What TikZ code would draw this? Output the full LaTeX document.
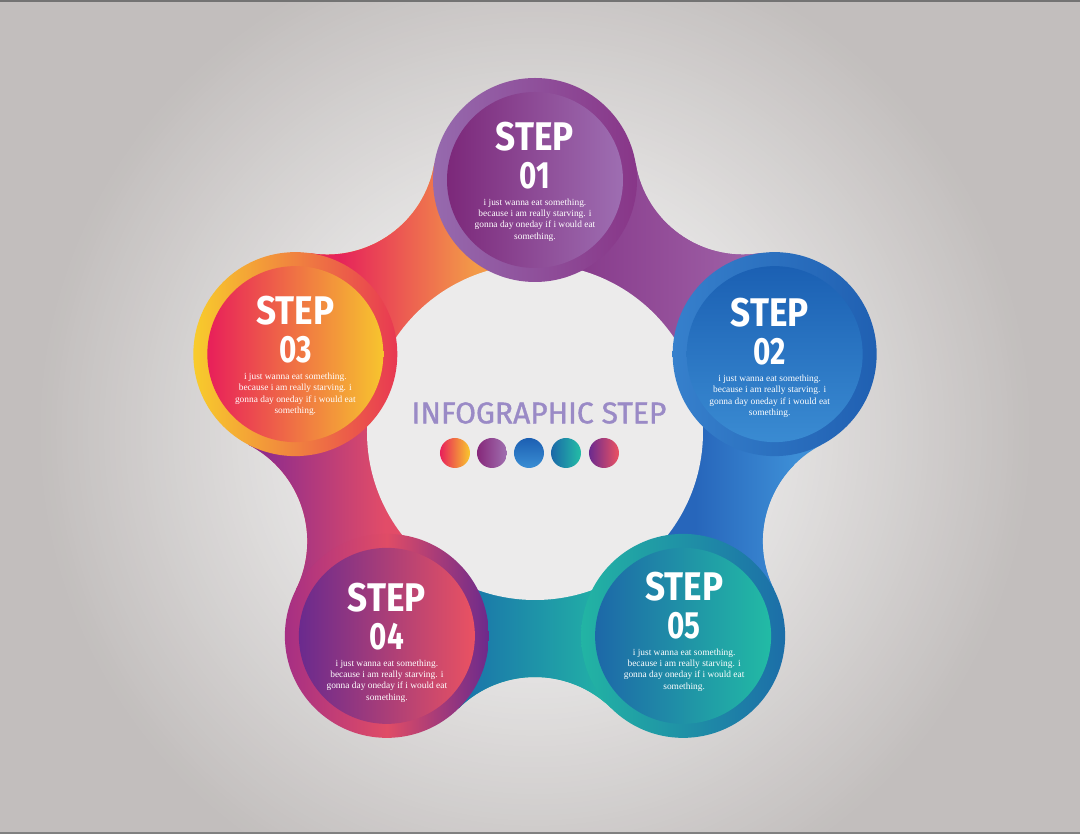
\documentclass[tikz,border=0pt]{standalone}
\usepackage{fontspec}
\usetikzlibrary{calc}
\newfontfamily\stepfont[FakeStretch=0.88]{Fira Sans}
\newfontfamily\numfont[FakeStretch=0.78]{Fira Sans}
\newfontfamily\titlefont[FakeBold=1.2]{Fira Sans}
\newfontfamily\bodyfont{Liberation Serif}

\definecolor{bglight}{HTML}{ECEBEB}
\definecolor{bgdark}{HTML}{C2BEBD}
\definecolor{titleviolet}{HTML}{9A8AC6}
% band colours, one pair per gap
\definecolor{gapA}{HTML}{873A8B}
\definecolor{gapB}{HTML}{A266AA}
\definecolor{gapC}{HTML}{E6245A}
\definecolor{gapD}{HTML}{F39A48}
\definecolor{gapE}{HTML}{8A2A8E}
\definecolor{gapF}{HTML}{E24C68}
\definecolor{gapG}{HTML}{1A74AA}
\definecolor{gapH}{HTML}{22B2A6}
\definecolor{gapI}{HTML}{2766BB}
\definecolor{gapJ}{HTML}{3D8ED6}

% outline of the ring with its concave fillets
\newcommand\bandpath{($(18:252)+(98.67:102)$) arc[start angle=-81.33, end angle=-170.67, radius=108.7]
  -- ($(90:252)+(170.67:102)$) arc[start angle=-9.33, end angle=-98.67, radius=108.7]
  -- ($(162:252)+(242.67:102)$) arc[start angle=62.67, end angle=-26.67, radius=108.7]
  -- ($(234:252)+(314.67:102)$) arc[start angle=134.67, end angle=45.33, radius=108.7]
  -- ($(306:252)+(386.67:102)$) arc[start angle=206.67, end angle=117.33, radius=108.7]
  -- cycle}

\begin{document}
\begin{tikzpicture}[x=1pt, y=1pt,
  ring/.style={circle, minimum size=204, inner sep=0pt, outer sep=0pt},
  disc/.style={circle, minimum size=176, inner sep=0pt, outer sep=0pt},
  dot/.style={circle, minimum size=30, inner sep=0pt, outer sep=0pt},
  steplabel/.style={font=\stepfont\bfseries\fontsize{40}{40}\selectfont, text=white, inner sep=0pt},
  stepnum/.style={font=\numfont\bfseries\fontsize{38}{38}\selectfont, text=white, inner sep=0pt},
  stepnote/.style={font=\bodyfont\fontsize{9.4}{11.3}\selectfont, text=white, align=center, inner sep=0pt},
  headline/.style={font=\titlefont\fontsize{30}{30}\selectfont, text=titleviolet, inner sep=0pt},
  ring1/.style={left color={rgb,255:red,150;green,106;blue,174}, right color={rgb,255:red,136;green,54;blue,136}},
  disc1/.style={left color={rgb,255:red,124;green,40;blue,122}, right color={rgb,255:red,158;green,110;blue,178}},
  ring2/.style={left color={rgb,255:red,54;green,128;blue,204}, right color={rgb,255:red,32;green,96;blue,178}},
  disc2/.style={top color={rgb,255:red,27;green,96;blue,179}, bottom color={rgb,255:red,58;green,139;blue,210}},
  ring3/.style={left color={rgb,255:red,248;green,204;blue,44}, right color={rgb,255:red,232;green,56;blue,82}},
  disc3/.style={left color={rgb,255:red,232;green,31;blue,90}, right color={rgb,255:red,247;green,197;blue,46}},
  ring4/.style={left color={rgb,255:red,166;green,47;blue,132}, right color={rgb,255:red,108;green,42;blue,140}, middle color={rgb,255:red,224;green,76;blue,102}},
  disc4/.style={left color={rgb,255:red,106;green,42;blue,142}, right color={rgb,255:red,234;green,82;blue,98}},
  ring5/.style={left color={rgb,255:red,34;green,180;blue,164}, right color={rgb,255:red,28;green,110;blue,168}},
  disc5/.style={left color={rgb,255:red,29;green,104;blue,168}, right color={rgb,255:red,34;green,187;blue,165}},
  dot1/.style={left color={rgb,255:red,232;green,32;blue,90}, right color={rgb,255:red,249;green,200;blue,44}},
  dot2/.style={left color={rgb,255:red,134;green,40;blue,122}, right color={rgb,255:red,160;green,112;blue,176}},
  dot3/.style={top color={rgb,255:red,28;green,95;blue,178}, bottom color={rgb,255:red,58;green,142;blue,212}},
  dot4/.style={left color={rgb,255:red,27;green,104;blue,168}, right color={rgb,255:red,35;green,190;blue,166}},
  dot5/.style={left color={rgb,255:red,107;green,42;blue,143}, right color={rgb,255:red,236;green,82;blue,98}},
]
\useasboundingbox (-535,-402) rectangle (545,432);

% backdrop, a soft glow built from rings
\fill[bgdark] (-535,-402) rectangle (545,432);
\foreach \i [evaluate=\i as \rad using 500-5.3*\i, evaluate=\i as \mix using 100-100*\i/60] in {0,...,60}
  \fill[bgdark!\mix!bglight] (0,0) circle[radius=\rad];
\fill[black!55] (-535,430) rectangle (545,432);
\fill[black!50] (-535,-402) rectangle (545,-400.5);

% the band, one gradient per gap
\foreach \mid/\xa/\xb/\ca/\cb in {54/40/240/gapA/gapB, 126/-195/-60/gapC/gapD,
    198/-280/-150/gapE/gapF, 270/-70/70/gapG/gapH, 342/160/260/gapI/gapJ}{
  \begin{scope}
    \clip (0,0) -- ({\mid-36}:420) -- (\mid:420) -- ({\mid+36}:420) -- cycle;
    \clip \bandpath;
    \fill[\cb] (-560,-420) rectangle (560,440);
    \fill[\ca] (-560,-420) rectangle (\xa,440);
    \shade[left color=\ca, right color=\cb] (\xa,-420) rectangle (\xb,440);
  \end{scope}
}
\fill[bglight] (0,0) circle[radius=168];

% the five steps
\foreach \n/\ang/\dx/\dy in {1/90/0/0, 2/18/-5/-2, 3/162/0/0, 4/234/0/-5, 5/306/1/6}{
  \node[ring, ring\n] (r\n) at (\ang:252) {};
  \node[disc, disc\n] (s\n) at (r\n) {};
  \node[steplabel] (t\n) at ($(s\n)+(\dx,43+\dy)$) {STEP};
  \node[stepnum] (n\n) at ($(s\n)+(\dx,4+\dy)$) {0\n};
  \node[stepnote] (b\n) at ($(s\n)+(\dx,-40+\dy)$) {i just wanna eat something.\\because i am really starving. i\\gonna day oneday if i would eat\\something.};
}

% centre
\node[headline] (title) at (4,19) {INFOGRAPHIC STEP};
\foreach \k/\x in {1/-80, 2/-43, 3/-6, 4/31, 5/69}
  \node[dot, dot\k] (d\k) at (\x,-21) {};

\end{tikzpicture}
\end{document}
